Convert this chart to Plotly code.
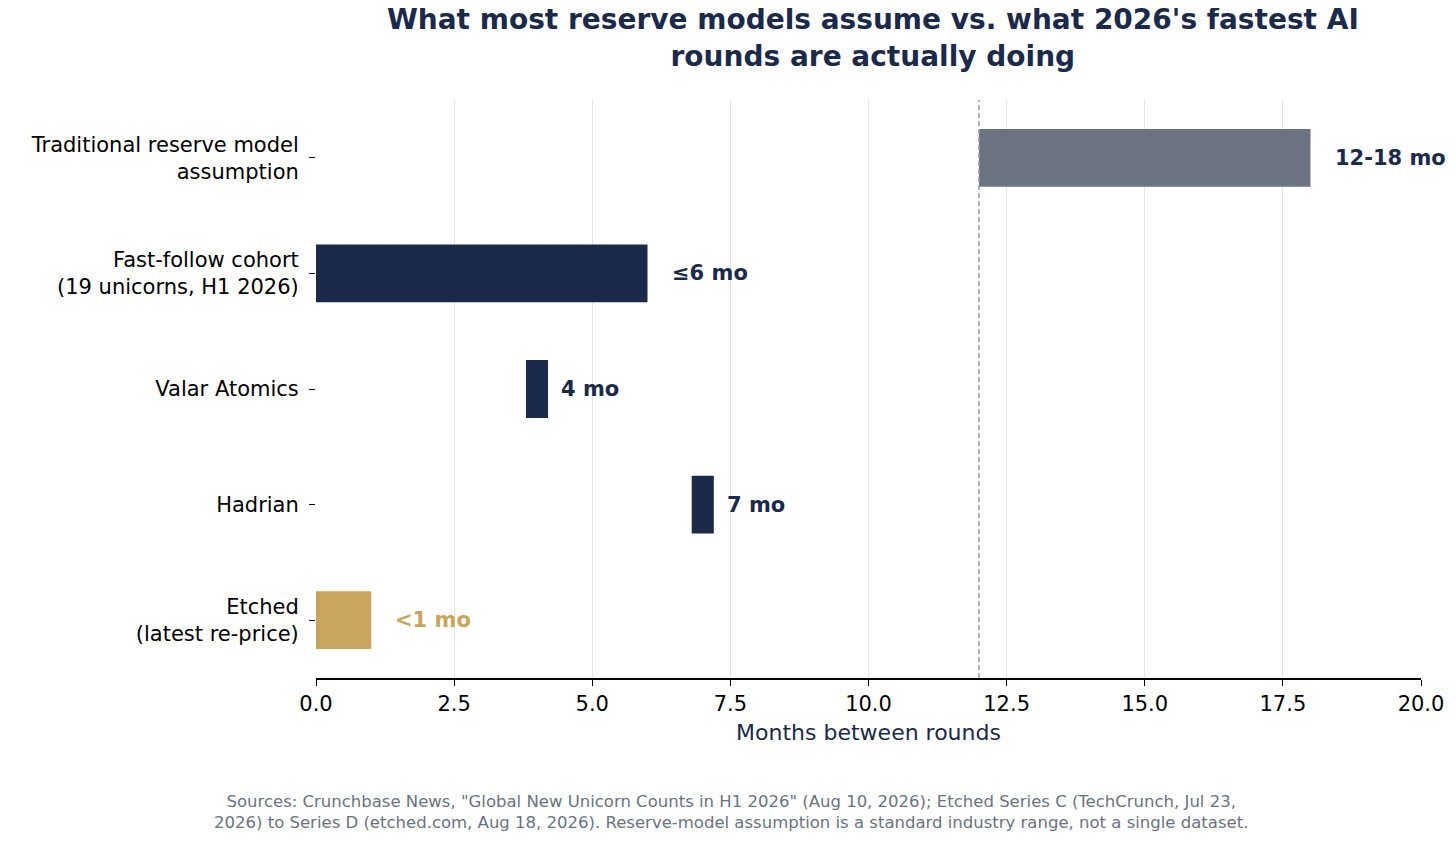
import plotly.graph_objects as go

# --- Data ---
categories = [
    "Traditional reserve model<br>assumption",
    "Fast-follow cohort<br>(19 unicorns, H1 2026)",
    "Valar Atomics",
    "Hadrian",
    "Etched<br>(latest re-price)",
]
bar_start = [12.0, 0.0, 3.8, 6.8, 0.0]
bar_end = [18.0, 6.0, 4.2, 7.2, 1.0]
bar_labels = ["12-18 mo", "≤6 mo", "4 mo", "7 mo", "<1 mo"]
bar_colors = ["#6b7280", "#1b2a4a", "#1b2a4a", "#1b2a4a", "#c9a45c"]
reserve_line = 12.0

navy = "#1b2a4a"
font = "DejaVu Sans"

fig = go.Figure()
fig.add_trace(go.Bar(
    y=categories,
    x=[e - s for s, e in zip(bar_start, bar_end)],
    base=bar_start,
    orientation="h",
    width=0.5,
    marker=dict(color=bar_colors, line=dict(width=0)),
    hoverinfo="skip",
))

annotations = []
for cat, s, end, lab, col in zip(categories, bar_start, bar_end, bar_labels, bar_colors):
    gap = 0.2 if end - s < 1 else 0.4
    annotations.append(dict(
        x=end + gap, y=cat, text=f"<b>{lab}</b>", showarrow=False,
        xanchor="left", yanchor="middle",
        font=dict(family=font, size=21, color=col if col == "#c9a45c" else navy),
    ))
annotations.append(dict(
    x=0.3756, y=-0.27, xref="paper", yref="paper", showarrow=False, xanchor="center",
    text='Sources: Crunchbase News, "Global New Unicorn Counts in H1 2026" (Aug 10, 2026); Etched Series C (TechCrunch, Jul 23,<br>'
         '2026) to Series D (etched.com, Aug 18, 2026). Reserve-model assumption is a standard industry range, not a single dataset.',
    font=dict(family=font, size=16.5, color="#6b7280"), align="center",
))

fig.add_shape(type="line", x0=reserve_line, x1=reserve_line, y0=0, y1=1,
              xref="x", yref="paper", line=dict(color="#999999", width=1.5, dash="5px,3px"))

fig.update_layout(
    width=1456, height=849,
    plot_bgcolor="white", paper_bgcolor="white",
    margin=dict(l=308, r=43, t=92, b=179),
    showlegend=False,
    font=dict(family=font, size=21, color="black"),
    title=dict(
        text="<b>What most reserve models assume vs. what 2026's fastest AI<br>rounds are actually doing</b>",
        x=0.594, xanchor="center", y=0.975, yanchor="top",
        font=dict(family=font, size=28, color=navy),
    ),
    xaxis=dict(
        range=[0, 20], dtick=2.5, tickformat=".1f",
        showgrid=True, gridcolor="#e5e5e5", zeroline=False,
        showline=True, linecolor="black", linewidth=1.5,
        ticks="outside", ticklen=6, tickcolor="black",
        title=dict(text="Months between rounds", font=dict(family=font, size=22, color=navy), standoff=10),
        tickfont=dict(size=21, color="black"),
    ),
    yaxis=dict(
        categoryorder="array", categoryarray=categories, autorange="reversed",
        showgrid=False, showline=False, ticks="outside", ticklen=6, tickcolor="black",
        ticklabelstandoff=6,
        tickfont=dict(size=21, color="black"),
    ),
    annotations=annotations,
)

fig.write_html("out.html")
